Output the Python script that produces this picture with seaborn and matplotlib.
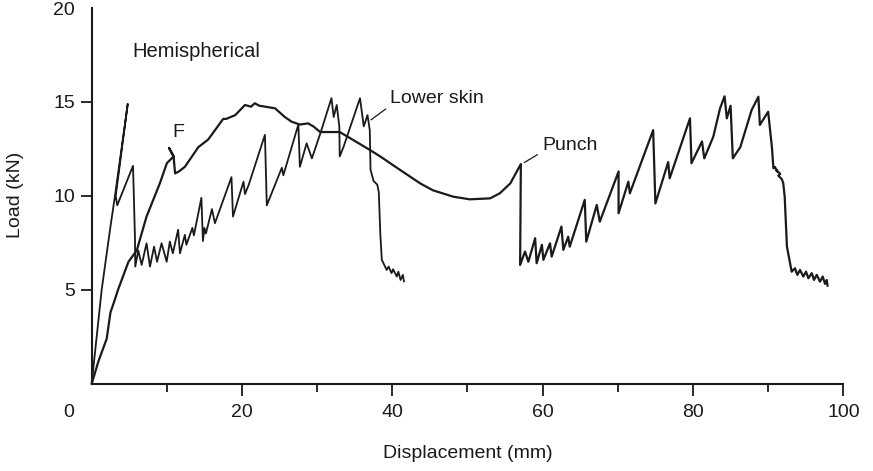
import numpy as np
import pandas as pd
import matplotlib
matplotlib.use("Agg")
import matplotlib.pyplot as plt
import seaborn as sns

# skin curve: steep initial loading + sawtooth up to the lower-skin failure
skin_x = [0, 1.33, 2.44, 3.1, 4.8, 3.2, 3.4, 5.5, 5.76, 5.8, 6.2, 6.65, 7.3, 7.76,
          8.3, 8.7, 9.3, 9.98, 10.4, 10.8, 11.5, 11.75, 12.4, 12.6, 13.4, 13.6,
          14.6, 14.8, 15.0, 15.2, 16.0, 16.4, 18.6, 18.8, 20.2, 20.4, 20.9, 23.05,
          23.3, 25.3, 25.5, 27.5, 27.7, 28.6, 29.3, 30.4, 31.9, 32.2, 32.6, 32.95,
          33.0, 33.5, 35.7, 36.2, 36.7, 37.0, 37.1, 37.5, 38.0, 38.2, 38.4, 38.6,
          39.25, 39.5, 39.9, 40.1, 40.6, 40.8, 41.1, 41.4, 41.55]
skin_y = [0, 5.0, 8.2, 10.0, 14.9, 10.0, 9.5, 11.6, 7.8, 6.24, 7.1, 6.33, 7.48, 6.24,
          7.3, 6.5, 7.48, 6.5, 7.57, 6.95, 8.2, 6.95, 7.93, 7.4, 8.3, 7.9,
          9.9, 7.6, 8.3, 8.0, 9.3, 8.55, 11.0, 8.9, 10.76, 10.1, 10.6, 13.25,
          9.5, 11.5, 11.1, 13.8, 11.55, 12.8, 12.0, 13.3, 15.2, 14.2, 14.84, 13.7,
          12.1, 12.6, 15.2, 13.7, 14.3, 13.5, 11.4, 10.8, 10.6, 10.2, 8.0, 6.6,
          6.06, 6.24, 5.89, 6.1, 5.71, 5.97, 5.53, 5.8, 5.44]

# punch curve: smooth hemispherical loading, then sawtooth to final failure
punch_x = [0, 0.9, 2.0, 2.5, 3.1, 3.5, 4.9, 6.0, 7.3, 9.1, 10.0, 10.9, 10.3, 10.9,
           11.1, 11.6, 12.4, 14.2, 15.5, 17.5, 17.9, 19.1, 20.4, 21.2, 21.7, 22.3,
           23.1, 24.4, 25.7, 26.6, 27.7, 28.8, 29.5, 30.4, 33.0, 34.4, 37.0, 38.4,
           40.6, 43.7, 45.4, 48.1, 50.3, 53.0, 54.3, 55.7, 57.1, 57.0, 57.65, 58.1,
           59.0, 59.2, 59.9, 60.1, 60.98, 61.2, 62.5, 62.75, 63.4, 63.6, 65.6, 65.8,
           67.2, 67.6, 70.1, 70.1, 71.4, 71.6, 74.7, 75.0, 76.7, 76.9, 79.6, 79.8,
           81.2, 81.5, 82.7, 83.6, 84.2, 84.5, 85.0, 85.3, 86.3, 87.8, 88.7, 88.9,
           90.0, 90.5, 90.7, 90.9, 91.2, 91.1, 91.6, 91.35, 91.8, 92.0, 92.2, 92.5,
           93.13, 93.57, 93.88, 94.24, 94.68, 95.04, 95.35, 95.8, 96.1, 96.46, 96.9,
           97.26, 97.57, 97.8, 97.9]
punch_y = [0, 1.2, 2.4, 3.8, 4.5, 5.0, 6.5, 7.1, 8.9, 10.7, 11.74, 12.1, 12.55, 12.1,
           11.2, 11.3, 11.55, 12.6, 13.0, 14.1, 14.1, 14.3, 14.84, 14.75, 14.93, 14.8,
           14.75, 14.66, 14.2, 13.95, 13.8, 13.86, 13.7, 13.4, 13.4, 13.07, 12.45, 12.1,
           11.5, 10.67, 10.3, 9.96, 9.82, 9.87, 10.14, 10.67, 11.7, 6.33, 7.04, 6.5,
           7.75, 6.42, 7.4, 6.6, 7.48, 6.77, 8.37, 7.13, 7.83, 7.3, 9.79, 7.57,
           9.52, 8.63, 11.3, 9.08, 10.76, 10.14, 13.5, 9.6, 11.8, 10.94, 14.13, 11.74,
           12.9, 12.0, 13.15, 14.66, 15.3, 14.13, 14.8, 12.0, 12.6, 14.57, 15.28, 13.78,
           14.48, 12.6, 11.47, 11.54, 11.3, 11.38, 11.17, 11.08, 10.9, 10.7, 9.96, 7.3,
           5.97, 6.15, 5.8, 6.06, 5.71, 5.97, 5.62, 5.89, 5.53, 5.8, 5.44,
           5.71, 5.32, 5.53, 5.21]

x_ticks = [20, 40, 60, 80, 100]
x_minor = [10, 30, 50, 70, 90]
y_ticks = [5, 10, 15, 20]

sns.set_style("ticks")
plt.rcParams['font.family'] = ['Liberation Sans', 'DejaVu Sans']
ink = "#1a1a1a"
fs = 14

skin = pd.DataFrame({"x": skin_x, "y": skin_y})
punch = pd.DataFrame({"x": punch_x, "y": punch_y})

fig = plt.figure(figsize=(8.73, 4.71), dpi=100)
ax = fig.add_axes([0.105, 0.185, 0.861, 0.798])

sns.lineplot(data=skin, x="x", y="y", sort=False, estimator=None, color=ink,
             lw=1.3, ax=ax, clip_on=False)
sns.lineplot(data=punch, x="x", y="y", sort=False, estimator=None, color=ink,
             lw=1.6, ax=ax, clip_on=False)

ax.set_xlim(0, 100)
ax.set_ylim(0, 20)
ax.set_xticks(x_ticks)
ax.set_xticks(x_minor, minor=True)
ax.set_yticks(y_ticks)
ax.yaxis.get_major_ticks()[-1].tick1line.set_visible(False)
sns.despine(ax=ax)
for s in ["left", "bottom"]:
    ax.spines[s].set_linewidth(1.5)
    ax.spines[s].set_color(ink)

ax.tick_params(axis="x", which="major", length=8.5, width=1.3, pad=6, labelsize=fs, colors=ink)
ax.tick_params(axis="x", which="minor", length=6, width=1.3, colors=ink)
ax.tick_params(axis="y", which="major", length=8, width=1.3, pad=4, labelsize=fs, colors=ink)

ax.text(-0.031, -0.075, "0", transform=ax.transAxes, ha="center", va="center",
        fontsize=fs, color=ink)

ax.set_xlabel("Displacement (mm)", fontsize=fs, color=ink)
ax.set_ylabel("Load (kN)", fontsize=fs, color=ink)
ax.xaxis.set_label_coords(0.5, -0.162)
ax.yaxis.set_label_coords(-0.09, 0.503)

ax.text(5.36, 17.66, "Hemispherical", fontsize=14.5, color=ink, ha="left", va="center")
ax.text(11.5, 13.4, "F", fontsize=fs, color=ink, ha="center", va="center")
ax.annotate("Lower skin", xy=(37.0, 14.0), xytext=(39.7, 15.16), fontsize=fs,
            color=ink, ha="left", va="center",
            arrowprops=dict(arrowstyle="-", lw=0.9, color=ink, shrinkA=1, shrinkB=1,
                            relpos=(0, 0.1)))
ax.annotate("Punch", xy=(57.4, 11.74), xytext=(59.9, 12.7), fontsize=fs,
            color=ink, ha="left", va="center",
            arrowprops=dict(arrowstyle="-", lw=0.9, color=ink, shrinkA=1, shrinkB=1,
                            relpos=(0, 0.1)))

fig.savefig("out.png", dpi=100)
